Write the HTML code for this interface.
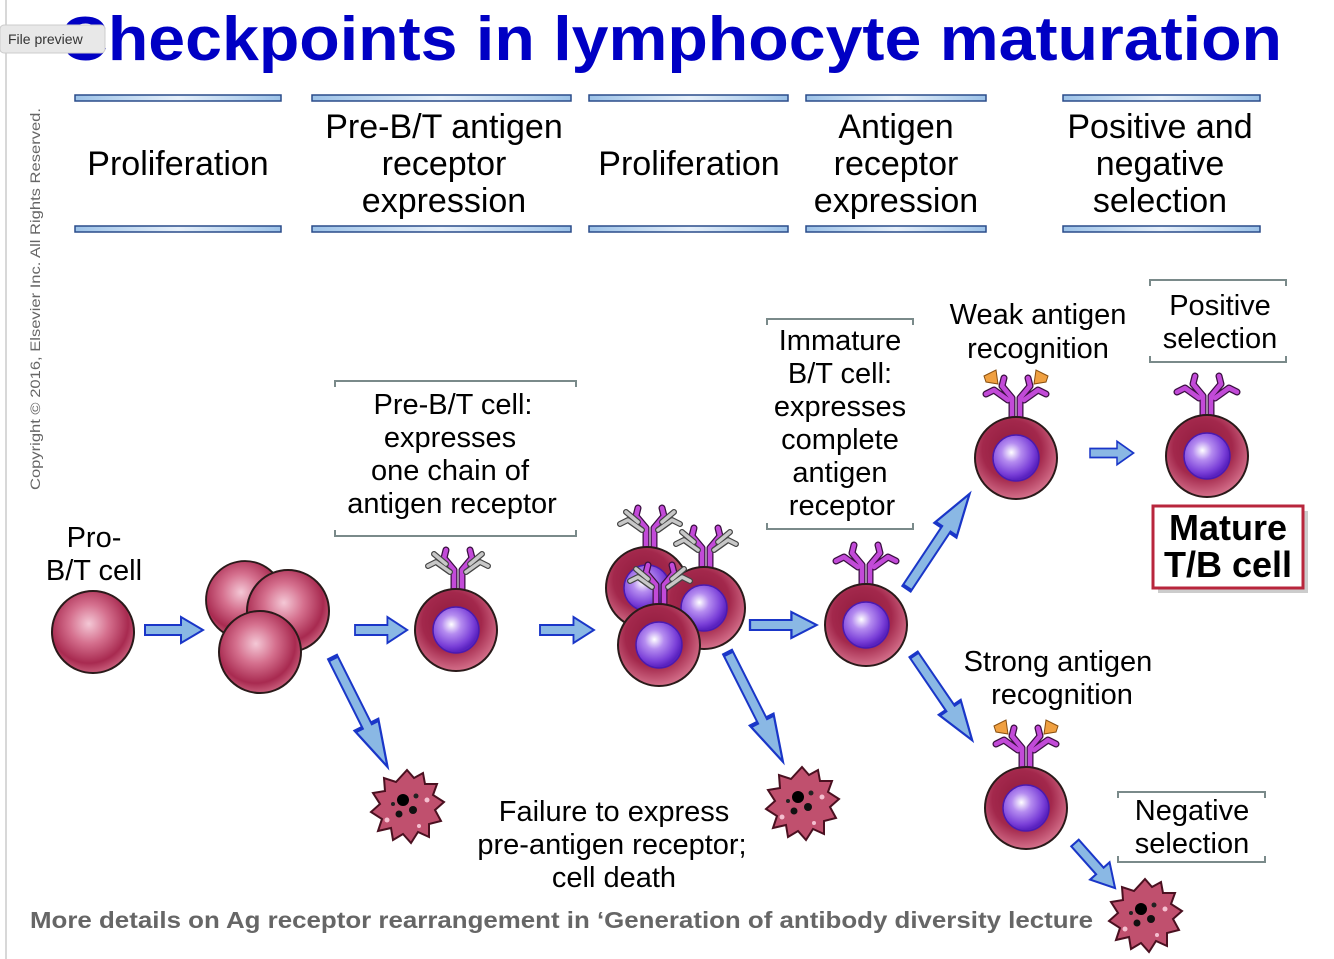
<!DOCTYPE html>
<html><head><meta charset="utf-8"><style>
body{margin:0;background:#fff;width:1334px;height:959px;overflow:hidden;font-family:"Liberation Sans",sans-serif}
svg{display:block}
</style></head><body>
<svg width="1334" height="959" viewBox="0 0 1334 959" xmlns="http://www.w3.org/2000/svg" font-family="Liberation Sans, sans-serif">
<defs>
<radialGradient id="gc" cx="0.45" cy="0.4" r="0.6"><stop offset="0" stop-color="#8e1a3c"/><stop offset="0.6" stop-color="#a3284c"/><stop offset="1" stop-color="#d46f8a"/></radialGradient>
<radialGradient id="gp" cx="0.45" cy="0.4" r="0.6"><stop offset="0" stop-color="#f4c8d6"/><stop offset="0.4" stop-color="#d5708e"/><stop offset="0.8" stop-color="#a82a50"/><stop offset="1" stop-color="#c85c7a"/></radialGradient>
<radialGradient id="gn" cx="0.4" cy="0.38" r="0.6"><stop offset="0" stop-color="#ffffff"/><stop offset="0.35" stop-color="#b58cf0"/><stop offset="0.8" stop-color="#7a3fd8"/><stop offset="1" stop-color="#5a22c0"/></radialGradient>
<linearGradient id="gb" x1="0" x2="1"><stop offset="0" stop-color="#9cc2e8"/><stop offset="0.5" stop-color="#e6f0fa"/><stop offset="1" stop-color="#9cc2e8"/></linearGradient>
<g id="cellP"><circle r="41" fill="url(#gp)" stroke="#2a1a1a" stroke-width="2"/></g>
<g id="cellN"><circle r="41" fill="url(#gc)" stroke="#2a1a1a" stroke-width="2"/><circle r="23" fill="url(#gn)" stroke="#4a1ab0" stroke-width="1.5"/></g>
<g id="rec" fill="none" stroke-linecap="round" stroke-linejoin="round">
<path d="M-4,0 V-22 L-14,-34 L-12,-42 M4,0 V-22 L14,-34 L12,-42 M-8,-20 L-22,-30 L-30,-26 M8,-20 L22,-30 L30,-26" stroke="#3a1040" stroke-width="7"/>
<path d="M-4,0 V-22 L-14,-34 L-12,-42 M4,0 V-22 L14,-34 L12,-42 M-8,-20 L-22,-30 L-30,-26 M8,-20 L22,-30 L30,-26" stroke="#c24ad8" stroke-width="4.5"/>
</g>
<g id="prerec" fill="none" stroke-linecap="round" stroke-linejoin="round">
<path d="M-4,0 V-22 L-14,-34 L-12,-42 M4,0 V-22 L14,-34 L12,-42" stroke="#3a1040" stroke-width="7"/>
<path d="M-4,0 V-22 L-14,-34 L-12,-42 M4,0 V-22 L14,-34 L12,-42" stroke="#c24ad8" stroke-width="4.5"/>
<path d="M-8,-20 L-22,-30 L-30,-26 M8,-20 L22,-30 L30,-26 M-12,-28 L-24,-38 M12,-28 L24,-38" stroke="#444" stroke-width="6"/>
<path d="M-8,-20 L-22,-30 L-30,-26 M8,-20 L22,-30 L30,-26 M-12,-28 L-24,-38 M12,-28 L24,-38" stroke="#c8c8c8" stroke-width="3.5"/>
</g>
<g id="ag"><path d="M-32,-44 L-20,-50 L-18,-36 L-30,-38Z M32,-44 L20,-50 L18,-36 L30,-38Z" fill="#f0a040" stroke="#8a5010" stroke-width="1"/></g>
<g id="dead">
<path d="M0,-36 L7,-28 L16,-33 L18,-22 L30,-22 L26,-11 L37,-4 L28,4 L34,15 L22,18 L22,31 L11,26 L4,37 L-4,28 L-14,34 L-16,22 L-29,25 L-25,13 L-36,6 L-27,-2 L-34,-13 L-22,-15 L-23,-28 L-11,-24 Z" fill="#c0506e" stroke="#4a1020" stroke-width="2"/>
<circle cx="-4" cy="-6" r="6" fill="#000"/><circle cx="6" cy="4" r="4" fill="#111"/><circle cx="-8" cy="8" r="3.5" fill="#111"/><circle cx="9" cy="-10" r="2.5" fill="#222"/><circle cx="-14" cy="-2" r="2" fill="#222"/>
<circle cx="20" cy="-6" r="2.5" fill="#f4c0d0"/><circle cx="-20" cy="14" r="2.5" fill="#f4c0d0"/><circle cx="12" cy="20" r="2" fill="#f4c0d0"/>
</g>
<path id="ar" d="M0,-5 L36,-5 L36,-13 L58,0 L36,13 L36,5 L0,5Z" fill="#8ab8e4" stroke="#1a36c8" stroke-width="2"/>
<g id="bar"><rect x="0" y="-3" width="1" height="7" fill="#2a4c8a"/></g>
</defs>

<line x1="6" y1="0" x2="6" y2="959" stroke="#ccc" stroke-width="1.5"/>
<text x="671" y="60" font-size="62" font-weight="bold" fill="#0000c4" text-anchor="middle" textLength="1222" lengthAdjust="spacingAndGlyphs">Checkpoints in lymphocyte maturation</text>
<rect x="0" y="25" width="105" height="28" rx="4" fill="#e8e8e8" stroke="#ccc"/>
<text x="8" y="44" font-size="14" fill="#333">File preview</text>
<text transform="translate(40,490) rotate(-90)" font-size="14" fill="#666" textLength="382" lengthAdjust="spacingAndGlyphs">Copyright © 2016, Elsevier Inc. All Rights Reserved.</text>

<!-- header bars -->
<g stroke="#2a4c8a" stroke-width="1.5" fill="url(#gb)">
<rect x="75" y="95" width="206" height="6"/><rect x="75" y="226" width="206" height="6"/>
<rect x="312" y="95" width="259" height="6"/><rect x="312" y="226" width="259" height="6"/>
<rect x="589" y="95" width="199" height="6"/><rect x="589" y="226" width="199" height="6"/>
<rect x="806" y="95" width="180" height="6"/><rect x="806" y="226" width="180" height="6"/>
<rect x="1063" y="95" width="197" height="6"/><rect x="1063" y="226" width="197" height="6"/>
</g>
<g font-size="34" fill="#000" text-anchor="middle">
<text x="178" y="175">Proliferation</text>
<text x="444" y="138">Pre-B/T antigen</text><text x="444" y="175">receptor</text><text x="444" y="212">expression</text>
<text x="689" y="175">Proliferation</text>
<text x="896" y="138">Antigen</text><text x="896" y="175">receptor</text><text x="896" y="212">expression</text>
<text x="1160" y="138">Positive and</text><text x="1160" y="175">negative</text><text x="1160" y="212">selection</text>
</g>

<!-- brackets -->
<g fill="none" stroke="#7a8a8a" stroke-width="2">
<path d="M335,387 V381 H576 V387"/><path d="M335,530 V536 H576 V530"/>
<path d="M767,325 V319 H913 V325"/><path d="M767,523 V529 H913 V523"/>
<path d="M1150,286 V280 H1286 V286"/><path d="M1150,356 V362 H1286 V356"/>
<path d="M1118,798 V792 H1265 V798"/><path d="M1118,856 V862 H1265 V856"/>
</g>
<g font-size="29" fill="#000" text-anchor="middle">
<text x="453" y="414">Pre-B/T cell:</text><text x="450" y="447">expresses</text><text x="450" y="480">one chain of</text><text x="452" y="513">antigen receptor</text>
<text x="840" y="350">Immature</text><text x="840" y="383">B/T cell:</text><text x="840" y="416">expresses</text><text x="840" y="449">complete</text><text x="840" y="482">antigen</text><text x="842" y="515">receptor</text>
<text x="1038" y="324">Weak antigen</text><text x="1038" y="358">recognition</text>
<text x="1220" y="315">Positive</text><text x="1220" y="348">selection</text>
<text x="94" y="547">Pro-</text><text x="94" y="580">B/T cell</text>
<text x="1058" y="671">Strong antigen</text><text x="1062" y="704">recognition</text>
<text x="1192" y="820">Negative</text><text x="1192" y="853">selection</text>
<text x="614" y="821">Failure to express</text><text x="612" y="854">pre-antigen receptor;</text><text x="614" y="887">cell death</text>
</g>

<!-- arrows -->
<use href="#ar" transform="translate(145,630)"/>
<use href="#ar" transform="translate(355,630) scale(0.9,1)"/>
<use href="#ar" transform="translate(540,630) scale(0.93,1)"/>
<use href="#ar" transform="translate(750,625) scale(1.15,1)"/>
<use href="#ar" transform="translate(1090,453) scale(0.75,0.9)"/>
<use href="#ar" transform="translate(333,658) rotate(63.4) scale(2.1,1)"/>
<use href="#ar" transform="translate(728,653) rotate(63.2) scale(2.1,1)"/>
<use href="#ar" transform="translate(907,588) rotate(-56.4) scale(1.95,1)"/>
<use href="#ar" transform="translate(914,655) rotate(55.7) scale(1.78,1)"/>
<use href="#ar" transform="translate(1075,843) rotate(48.4) scale(1.04,1)"/>

<!-- cells -->
<use href="#cellP" transform="translate(93,632)"/>
<use href="#cellP" transform="translate(245,600) scale(0.95)"/>
<use href="#cellP" transform="translate(288,611)"/>
<use href="#cellP" transform="translate(260,652)"/>

<use href="#prerec" transform="translate(458,592)"/>
<use href="#cellN" transform="translate(456,630)"/>

<use href="#prerec" transform="translate(650,550)"/>
<use href="#cellN" transform="translate(647,588)"/>
<use href="#prerec" transform="translate(706,570)"/>
<use href="#cellN" transform="translate(704,608)"/>
<use href="#prerec" transform="translate(660,607)"/>
<use href="#cellN" transform="translate(659,645)"/>

<use href="#rec" transform="translate(866,587)"/>
<use href="#cellN" transform="translate(866,625)"/>

<use href="#ag" transform="translate(1016,420)"/>
<use href="#rec" transform="translate(1016,420)"/>
<use href="#cellN" transform="translate(1016,458)"/>

<use href="#rec" transform="translate(1207,418)"/>
<use href="#cellN" transform="translate(1207,456)"/>

<use href="#ag" transform="translate(1026,770)"/>
<use href="#rec" transform="translate(1026,770)"/>
<use href="#cellN" transform="translate(1026,808)"/>

<use href="#dead" transform="translate(407,806)"/>
<use href="#dead" transform="translate(802,803)"/>
<use href="#dead" transform="translate(1145,915)"/>

<!-- mature box -->
<rect x="1158" y="511" width="150" height="82" fill="#aaa" opacity="0.6"/>
<rect x="1153" y="506" width="150" height="82" fill="#fff" stroke="#b8263c" stroke-width="3"/>
<text x="1228" y="540" font-size="36" font-weight="bold" text-anchor="middle">Mature</text>
<text x="1228" y="577" font-size="36" font-weight="bold" text-anchor="middle">T/B cell</text>

<text x="30" y="928" font-size="23" font-weight="bold" fill="#666" textLength="1063" lengthAdjust="spacingAndGlyphs">More details on Ag receptor rearrangement in ‘Generation of antibody diversity lecture</text>
</svg>
</body></html>
